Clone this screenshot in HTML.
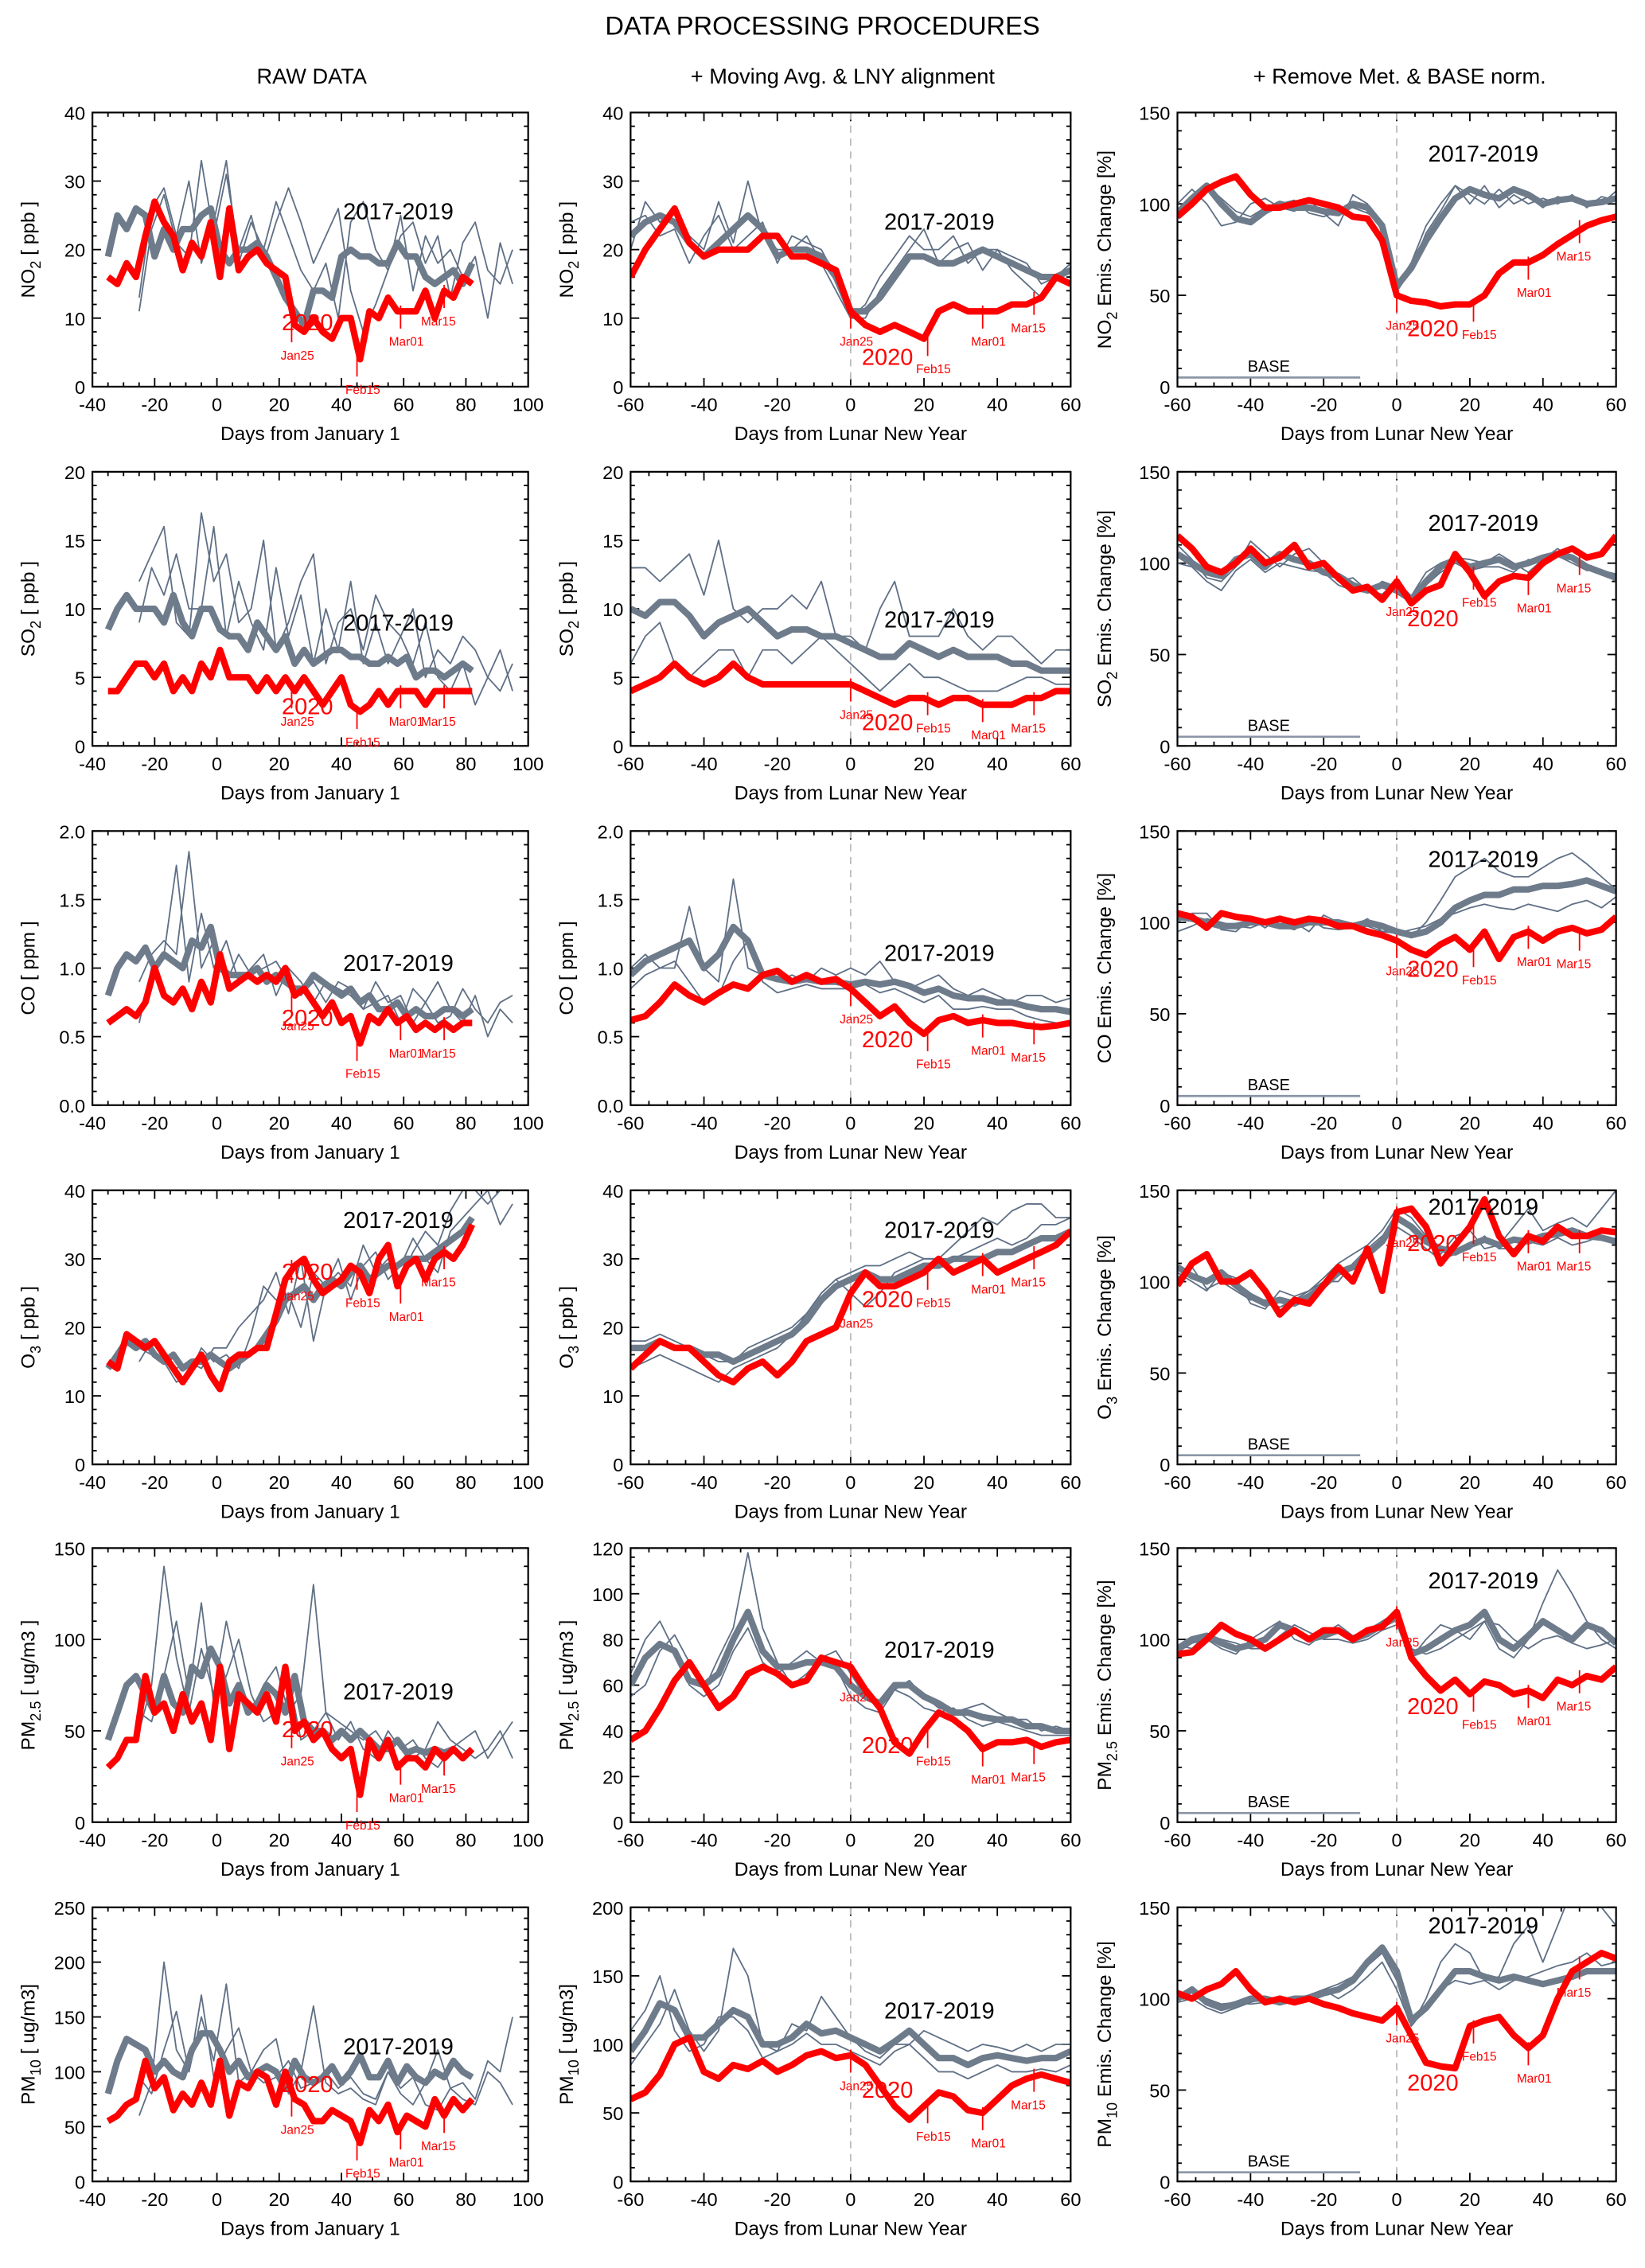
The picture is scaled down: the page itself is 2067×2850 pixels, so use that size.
<!DOCTYPE html>
<html><head><meta charset="utf-8">
<style>
html,body{margin:0;padding:0;background:#fff;}
svg{display:block;font-family:"Liberation Sans",sans-serif;}
</style></head>
<body>
<svg id="fig" width="2067" height="2850" viewBox="0 0 1140 1572" xmlns="http://www.w3.org/2000/svg">
<text x="570" y="24" text-anchor="middle" font-size="18">DATA PROCESSING PROCEDURES</text>
<text x="216" y="58" text-anchor="middle" font-size="15">RAW DATA</text>
<text x="584" y="58" text-anchor="middle" font-size="15">+ Moving Avg. &amp; LNY alignment</text>
<text x="970" y="58" text-anchor="middle" font-size="15">+ Remove Met. &amp; BASE norm.</text>
</svg>
<script>
// ---------- DATA ----------
// column 1 (raw): red/gray start x=-35 step 3; thin start x=-25 step 4
// column 2/3: start x=-60 step 4
const no2_c1_red=[16,15,18,16,22,27,24,22,17,21,19,24,16,26,17,19,20,18,17,16,9,8,10,8,7,10,10,4,11,10,13,11,11,11,14,10,14,13,16,15];
const no2_c1_gray=[19,25,23,26,25,19,23,20,23,23,25,26,20,18,20,20,21,19,16,13,11,9,14,14,13,19,20,19,19,18,18,21,19,19,16,15,16,17,15,18];
const no2_c1_thin1=[11,23,28,21,19,33,22,31,20,25,18,24,29,24,18,22,26,14,8,12,17,22,24,18,22,13,21,24,17,15,20];
const no2_c1_thin2=[13,26,29,22,30,18,24,33,18,24,20,27,22,17,14,18,10,24,27,20,17,25,14,22,18,20,16,19,10,21,15];
const no2_c2_red=[16,20,23,26,21,19,20,20,20,22,22,19,19,18,17,11,9,8,9,8,7,11,12,11,11,11,12,12,13,16,15];
const no2_c2_gray=[22,24,25,24,21,19,21,23,25,23,19,20,20,19,16,11,11,13,16,19,19,18,18,19,20,19,18,17,16,16,17];
const no2_c2_thin1=[20,27,24,26,22,20,27,21,30,22,20,20,22,18,14,10,12,16,19,22,20,20,22,18,20,20,17,15,13,16,18];
const no2_c2_thin2=[24,25,22,23,18,22,25,20,22,24,18,22,21,20,16,10,10,14,17,20,23,18,20,21,17,20,19,18,15,16,18];
const no2_c3_red=[93,100,108,112,115,105,98,98,100,102,100,98,93,92,80,50,47,46,44,45,45,50,62,68,68,72,78,83,88,91,93];
const no2_c3_gray=[95,103,110,100,92,90,96,100,98,98,96,95,100,98,88,55,65,80,92,103,108,105,103,108,105,100,102,103,100,101,103];
const no2_c3_thin1=[100,108,100,88,90,100,103,98,96,102,95,88,105,100,85,55,68,88,100,110,105,100,108,100,104,98,104,102,100,100,107];
const no2_c3_thin2=[92,100,110,103,96,93,98,100,102,95,93,96,98,95,90,52,64,84,96,110,100,110,98,105,100,103,100,105,98,104,102];

const so2_c1_red=[4,4,5,6,6,5,6,4,5,4,6,5,7,5,5,5,4,5,4,5,4,5,4,3,4,5,3,2.5,3,4,3,4,4,4,3,4,4,4,4,4];
const so2_c1_gray=[8.5,10,11,10,10,10,9,11,9,8,10,10,8.5,8,8,7,9,8,7,8,6,7,6,6.5,7,7,6.5,6.5,6,6,6.5,6,6.5,5,5.5,5.5,5,5.5,6,5.5];
const so2_c1_thin1=[12,14,16,9,8,17,12,14,9,10,15,7,9,12,14,6,9,10,7,11,9,8,10,5,7,6,8,7,5,7,4];
const so2_c1_thin2=[9,13,11,14,10,10,16,8,12,9,7,13,8,11,6,10,7,12,6,9,6,8,6,9,5,4,6,3,5,4,6];
const so2_c2_red=[4,4.5,5,6,5,4.5,5,6,5,4.5,4.5,4.5,4.5,4.5,4.5,4.5,4,3.5,3,3.5,3.5,3,3.5,3.5,3,3,3,3.5,3.5,4,4];
const so2_c2_gray=[10,9.5,10.5,10.5,9.5,8,9,9.5,10,9,8,8.5,8.5,8,8,7.5,7,6.5,6.5,7.5,7,6.5,7,6.5,6.5,6.5,6,6,5.5,5.5,5.5];
const so2_c2_thin1=[13,13,12,13,14,11,15,10,9,10,10,11,10,12,8,8,7,10,12,8,8,8,10,8,7,8,8,7,6,7,7];
const so2_c2_thin2=[6,8,9,6,5,6,7,7,5,7,7,6,7,8,7,6,5,4,5,6,5,5,4.5,4,4,4,4.5,5,5,4.5,4.5];
const so2_c3_red=[115,108,98,95,100,108,100,103,110,98,100,92,85,87,80,90,78,85,88,105,95,82,90,93,92,100,105,108,103,105,115];
const so2_c3_gray=[105,100,95,93,102,105,98,105,102,100,95,93,88,85,88,85,80,90,98,102,98,100,102,98,100,103,105,103,98,95,92];
const so2_c3_thin1=[110,102,92,90,98,112,105,98,105,108,100,90,92,85,83,90,82,95,100,103,102,100,105,100,95,102,108,102,97,96,90];
const so2_c3_thin2=[100,98,90,85,96,102,95,100,98,96,95,88,85,84,90,87,78,88,95,100,96,98,98,95,102,100,104,100,96,96,94];

const co_c1_red=[0.6,0.65,0.7,0.65,0.75,1.0,0.8,0.75,0.85,0.7,0.9,0.75,1.1,0.85,0.9,0.95,0.9,0.95,0.9,1.0,0.8,0.85,0.75,0.65,0.75,0.6,0.65,0.45,0.65,0.6,0.7,0.6,0.65,0.55,0.6,0.55,0.6,0.55,0.6,0.6];
const co_c1_gray=[0.8,1.0,1.1,1.05,1.15,1.0,1.1,1.05,1.0,1.2,1.15,1.3,1.0,0.95,0.95,0.95,1.0,0.9,0.95,0.9,0.85,0.85,0.95,0.9,0.85,0.8,0.85,0.75,0.8,0.7,0.7,0.75,0.65,0.7,0.65,0.65,0.7,0.7,0.65,0.7];
const co_c1_thin1=[0.6,1.0,1.1,1.75,0.9,1.4,1.0,1.2,0.9,1.0,1.1,0.8,1.0,0.9,0.75,0.9,0.85,0.8,0.7,0.9,0.75,0.8,0.6,0.75,0.9,0.7,0.6,0.8,0.5,0.7,0.6];
const co_c1_thin2=[0.9,1.1,1.2,1.1,1.85,1.0,1.2,0.9,1.1,0.95,1.0,1.05,0.9,0.8,0.9,0.75,0.9,0.85,0.7,0.75,0.8,0.6,0.85,0.75,0.6,0.65,0.85,0.7,0.6,0.75,0.8];
const co_c2_red=[0.62,0.65,0.75,0.88,0.8,0.75,0.82,0.88,0.85,0.95,0.98,0.9,0.95,0.9,0.92,0.85,0.75,0.65,0.72,0.6,0.52,0.62,0.65,0.6,0.62,0.6,0.6,0.58,0.57,0.58,0.6];
const co_c2_gray=[0.95,1.05,1.1,1.15,1.2,1.0,1.1,1.3,1.2,0.95,0.92,0.9,0.92,0.9,0.9,0.88,0.9,0.88,0.9,0.87,0.82,0.85,0.8,0.78,0.78,0.75,0.75,0.72,0.7,0.7,0.68];
const co_c2_thin1=[1.0,1.1,1.0,1.0,1.45,1.0,0.9,1.65,1.0,0.95,0.9,0.95,0.9,1.0,0.95,1.0,0.95,1.05,0.9,0.85,0.9,0.95,0.85,0.8,0.85,0.8,0.75,0.8,0.8,0.75,0.78];
const co_c2_thin2=[0.85,0.95,1.0,1.05,0.9,0.75,0.8,1.05,1.2,0.9,0.82,0.85,0.88,0.85,0.85,0.85,0.88,0.82,0.85,0.8,0.75,0.8,0.7,0.7,0.72,0.7,0.7,0.65,0.62,0.6,0.6];
const co_c3_red=[105,103,97,105,103,102,100,102,100,102,101,98,98,95,93,90,85,82,88,92,85,95,80,92,95,90,95,97,94,96,103];
const co_c3_gray=[103,102,100,98,98,100,100,98,98,100,100,100,98,100,98,95,93,95,100,108,112,115,115,118,118,120,120,121,123,120,117];
const co_c3_thin1=[100,105,105,96,95,102,97,103,100,95,104,100,98,102,95,96,92,100,112,125,130,135,128,125,125,130,135,138,132,125,118];
const co_c3_thin2=[95,98,102,100,98,97,100,98,96,102,97,96,97,98,95,94,96,98,102,105,108,110,108,107,110,108,106,110,112,108,114];

const o3_c1_red=[15,14,19,18,17,18,16,14,12,14,16,13,11,15,16,16,17,17,22,27,29,30,27,25,26,27,29,28,25,30,32,26,29,30,27,30,31,30,32,35];
const o3_c1_gray=[14,16,18,17,18,16,15,16,14,15,15,16,15,14,15,16,17,19,21,24,25,26,24,26,27,26,28,29,27,28,29,29,30,30,30,31,32,33,34,36];
const o3_c1_thin1=[17,16,15,12,13,17,15,16,14,19,26,24,25,20,28,26,30,24,29,31,27,29,33,30,28,34,36,38,40,35,38];
const o3_c1_thin2=[15,18,16,14,15,14,17,17,20,22,24,28,22,30,18,26,28,26,32,28,30,27,31,34,32,37,40,40,38,40,41];
const o3_c2_red=[14,16,18,17,17,15,13,12,14,15,13,15,18,19,20,25,28,26,26,27,28,30,28,29,30,28,29,30,31,32,34];
const o3_c2_gray=[17,17,18,17,17,16,16,15,16,17,18,19,21,24,26,27,28,27,27,28,29,29,30,30,30,31,31,32,33,33,34];
const o3_c2_thin1=[14,15,16,15,14,13,12,14,15,16,17,19,22,25,27,25,23,25,28,29,30,30,32,34,36,35,37,38,38,36,36];
const o3_c2_thin2=[18,18,19,18,17,16,15,15,17,18,19,20,22,25,27,28,29,29,30,31,30,30,30,31,32,33,32,33,35,35,36];
const o3_c3_red=[98,110,115,100,100,105,95,82,90,88,98,108,100,118,95,138,140,130,110,120,130,145,125,115,125,122,130,125,125,128,127];
const o3_c3_gray=[108,103,100,105,98,92,88,90,88,92,98,105,108,115,122,135,130,122,118,116,120,123,120,123,122,125,126,128,125,124,122];
const o3_c3_thin1=[105,100,95,105,102,88,85,95,92,95,102,110,115,120,128,140,135,125,115,125,128,118,120,130,140,128,132,135,130,140,150];
const o3_c3_thin2=[102,108,96,100,95,90,90,86,90,95,100,100,110,118,125,130,125,118,112,115,118,125,118,118,122,120,124,120,122,125,120];

const pm25_c1_red=[30,35,45,45,80,60,65,50,70,55,65,45,85,40,70,65,60,70,55,85,50,55,45,50,40,35,40,15,45,35,45,30,35,35,30,40,35,40,35,40];
const pm25_c1_gray=[45,60,75,80,70,60,80,65,60,85,80,95,85,65,75,60,65,75,70,60,80,55,50,50,45,50,45,50,45,40,40,45,38,40,38,40,38,40,35,40];
const pm25_c1_thin1=[50,75,140,90,60,95,70,110,80,60,75,85,60,70,130,60,55,50,45,50,40,45,35,40,55,45,40,35,40,50,35];
const pm25_c1_thin2=[60,55,80,110,70,120,65,80,100,70,55,60,80,45,50,60,45,55,40,35,50,40,45,35,30,40,45,50,35,45,55];
const pm25_c2_red=[36,40,50,62,70,60,50,55,65,68,65,60,62,72,70,68,58,50,35,30,40,48,45,40,32,35,35,36,33,35,36];
const pm25_c2_gray=[60,72,78,75,62,60,65,80,92,75,68,68,70,70,68,60,55,52,60,60,55,52,48,48,46,45,45,42,42,40,40];
const pm25_c2_thin1=[55,60,75,82,70,58,72,85,118,85,70,60,65,72,75,65,55,50,58,62,55,50,48,50,52,48,45,45,40,42,40];
const pm25_c2_thin2=[65,80,88,75,60,55,60,75,85,70,65,70,75,70,68,55,50,48,58,55,50,48,50,45,42,44,42,40,38,38,38];
const pm25_c3_red=[92,93,100,108,103,100,95,100,105,100,105,105,100,105,107,115,90,80,72,78,70,77,75,70,72,68,78,75,80,78,85];
const pm25_c3_gray=[95,100,102,98,95,97,100,108,105,100,102,105,100,103,108,112,92,95,100,105,108,115,100,95,102,110,105,100,108,105,98];
const pm25_c3_thin1=[93,98,100,95,92,100,105,110,100,97,103,108,102,105,110,115,90,100,108,105,100,110,95,90,100,120,138,125,110,100,95];
const pm25_c3_thin2=[97,95,103,100,98,95,95,102,108,104,100,100,98,100,105,108,95,92,95,100,105,110,108,100,95,100,102,98,95,97,100];

const pm10_c1_red=[55,60,70,75,110,85,95,65,80,70,90,70,110,60,90,85,100,95,70,100,75,70,55,55,65,60,55,35,65,55,70,45,60,55,50,75,60,75,65,75];
const pm10_c1_gray=[80,110,130,125,120,100,110,100,95,120,135,135,120,100,110,95,100,105,100,85,110,95,90,95,105,90,100,115,95,95,110,90,105,95,90,100,95,110,100,95];
const pm10_c1_thin1=[60,90,200,120,100,150,110,180,90,100,120,130,80,100,160,90,80,85,75,70,100,80,70,90,120,85,75,70,100,90,70];
const pm10_c1_thin2=[95,80,120,155,100,170,95,120,140,100,90,95,110,85,90,100,85,95,80,75,100,85,95,70,65,85,90,75,110,100,150];
const pm10_c2_red=[60,65,78,100,105,80,75,85,82,88,80,85,92,95,90,92,85,70,55,45,55,65,62,52,50,60,70,75,78,75,72];
const pm10_c2_gray=[95,110,130,125,105,105,115,125,120,100,100,105,115,108,110,105,100,95,102,110,100,90,90,85,90,92,90,88,90,90,95];
const pm10_c2_thin1=[85,100,115,140,110,95,110,170,150,100,95,115,110,135,120,105,95,90,100,100,110,105,100,95,100,98,95,100,95,100,100];
const pm10_c2_thin2=[110,125,150,110,95,100,120,120,110,90,95,100,108,100,100,95,90,85,95,100,90,80,80,75,80,85,80,80,82,80,85];
const pm10_c3_red=[103,100,105,108,115,105,98,100,98,100,97,95,92,90,88,95,80,65,63,62,85,88,90,80,73,80,100,115,120,125,122];
const pm10_c3_gray=[100,105,98,95,97,100,100,98,100,100,103,105,110,120,128,115,88,95,105,115,115,112,110,112,110,108,110,112,115,115,115];
const pm10_c3_thin1=[98,100,95,92,95,98,100,100,98,100,105,108,112,118,125,110,85,100,120,130,125,110,112,130,140,120,140,160,160,150,140];
const pm10_c3_thin2=[102,100,100,97,98,97,98,97,100,102,105,100,105,112,120,105,85,95,105,110,108,110,105,110,112,115,118,120,125,118,120];

const species=["NO","SO","CO","O","PM","PM"];
const speciesSub=["2","2","","3","2.5","10"];
const units=["[ ppb ]","[ ppb ]","[ ppm ]","[ ppb ]","[ ug/m3 ]","[ ug/m3]"];
const yMaxC1=[40,20,2.0,40,150,250];
const yStepC1=[10,5,0.5,10,50,50];
const yMaxC2=[40,20,2.0,40,120,200];
const yStepC2=[10,5,0.5,10,20,50];
const dateNames=["Jan25","Feb15","Mar01","Mar15"];
const dateDaysRaw=[24,45,59,73];
const dateDaysLNY=[0,21,36,50];

const seriesByRow=[
 [[no2_c1_red,no2_c1_gray,no2_c1_thin1,no2_c1_thin2],[no2_c2_red,no2_c2_gray,no2_c2_thin1,no2_c2_thin2],[no2_c3_red,no2_c3_gray,no2_c3_thin1,no2_c3_thin2]],
 [[so2_c1_red,so2_c1_gray,so2_c1_thin1,so2_c1_thin2],[so2_c2_red,so2_c2_gray,so2_c2_thin1,so2_c2_thin2],[so2_c3_red,so2_c3_gray,so2_c3_thin1,so2_c3_thin2]],
 [[co_c1_red,co_c1_gray,co_c1_thin1,co_c1_thin2],[co_c2_red,co_c2_gray,co_c2_thin1,co_c2_thin2],[co_c3_red,co_c3_gray,co_c3_thin1,co_c3_thin2]],
 [[o3_c1_red,o3_c1_gray,o3_c1_thin1,o3_c1_thin2],[o3_c2_red,o3_c2_gray,o3_c2_thin1,o3_c2_thin2],[o3_c3_red,o3_c3_gray,o3_c3_thin1,o3_c3_thin2]],
 [[pm25_c1_red,pm25_c1_gray,pm25_c1_thin1,pm25_c1_thin2],[pm25_c2_red,pm25_c2_gray,pm25_c2_thin1,pm25_c2_thin2],[pm25_c3_red,pm25_c3_gray,pm25_c3_thin1,pm25_c3_thin2]],
 [[pm10_c1_red,pm10_c1_gray,pm10_c1_thin1,pm10_c1_thin2],[pm10_c2_red,pm10_c2_gray,pm10_c2_thin1,pm10_c2_thin2],[pm10_c3_red,pm10_c3_gray,pm10_c3_thin1,pm10_c3_thin2]]
];
// annotation placements (pixel layout)
const lblCenters=[[[276,146],[651,153],[1028,106]],[[276,431],[651,429],[1028,362]],[[276,667],[651,660],[1028,595]],[[276,845],[651,852],[1028,836]],[[276,1172],[651,1143],[1028,1095]],[[276,1418],[651,1393],[1028,1334]]];
const lbl2020=[[[213,229],[615,253],[993,233]],[[213,495],[615,506],[993,434]],[[213,711],[615,726],[993,677]],[[213,887],[615,906],[993,867]],[[213,1204],[615,1215],[993,1188]],[[213,1450],[615,1454],[993,1449]]];

// ---------- DRAW ----------
const NS="http://www.w3.org/2000/svg";
const svg=document.getElementById('fig');
function mk(tag,attrs,parent){const e=document.createElementNS(NS,tag);for(const k in attrs)e.setAttribute(k,attrs[k]);(parent||svg).appendChild(e);return e;}
const colL=[64,437,816],colR=[366,742,1120];
const rowT=[78,327,576,825,1073,1322];const PH=190;
const fmt=(v,s)=>s<1?v.toFixed(1):String(Math.round(v));

for(let r=0;r<6;r++){for(let c=0;c<3;c++){
 const L=colL[c],R=colR[c],T=rowT[r],B=T+PH;
 const xmin=c==0?-40:-60,xmax=c==0?100:60;
 const ymax=c==0?yMaxC1[r]:(c==1?yMaxC2[r]:150);
 const ystep=c==0?yStepC1[r]:(c==1?yStepC2[r]:50);
 const xs=v=>L+(v-xmin)/(xmax-xmin)*(R-L);
 const ys=v=>B-v/ymax*PH;
 const g=mk('g',{});
 
 
 const cid='clip'+r+c;
 const cp=mk('clipPath',{id:cid},g);mk('rect',{x:L,y:T,width:R-L,height:PH},cp);
 // ticks
 const ax=mk('g',{stroke:'#000','stroke-width':1},g);
 
 for(let v=xmin;v<=xmax;v+=5){const major=v%20==0;const len=major?6:3;const x=xs(v);
  mk('line',{x1:x,x2:x,y1:B,y2:B-len},ax);mk('line',{x1:x,x2:x,y1:T,y2:T+len},ax);}
 const ym=ystep/5;
 for(let i=0;i<=Math.round(ymax/ym);i++){const v=i*ym;const major=i%5==0;const len=major?6:3;const y=ys(v);
  mk('line',{x1:L,x2:L+len,y1:y,y2:y},ax);mk('line',{x1:R,x2:R-len,y1:y,y2:y},ax);}
 // tick labels
 for(let v=xmin;v<=xmax;v+=20){const t=mk('text',{x:xs(v),y:B+17,'text-anchor':'middle','font-size':13},g);t.textContent=v;
  }
 for(let i=0;i<=Math.round(ymax/ystep);i++){const v=i*ystep;const t=mk('text',{x:L-5,y:ys(v)+5,'text-anchor':'end','font-size':13},g);t.textContent=fmt(v,ystep);
  }
 const xt=mk('text',{x:(L+R)/2,y:B+37,'text-anchor':'middle','font-size':13.5},g);
 xt.textContent=c==0?'Days from January 1':'Days from Lunar New Year';
 
 const yx=L-(c==2?46:40);
 const yt=mk('text',{x:yx,y:(T+B)/2,'text-anchor':'middle','font-size':13.5,transform:'rotate(-90 '+yx+' '+((T+B)/2)+')'},g);
 
 const s1=mk('tspan',{},yt);s1.textContent=species[r];
 if(speciesSub[r]){const s2=mk('tspan',{'font-size':10,dy:4},yt);s2.textContent=speciesSub[r];}
 const s3=mk('tspan',{dy:speciesSub[r]?-4:0},yt);s3.textContent=c==2?' Emis. Change [%]':' '+units[r];
 // dashed LNY line
 if(c>0){const d=mk('line',{x1:xs(0),x2:xs(0),y1:T,y2:B,stroke:'#bbb','stroke-dasharray':'5,4','stroke-width':1},g);
  }
 if(c==2){const b=mk('line',{x1:xs(-60),x2:xs(-10),y1:ys(5),y2:ys(5),stroke:'#8a96a6','stroke-width':1.5},g);
  
  const bt=mk('text',{x:xs(-35),y:ys(5)-4,'text-anchor':'middle','font-size':11},g);bt.textContent='BASE';
  }
 // series
 const S=seriesByRow[r][c];
 const lg=mk('g',{'clip-path':'url(#'+cid+')',fill:'none','stroke-linejoin':'round'},g);
 const pathFor=(arr,x0,st)=>arr.map((v,i)=>(i?'L':'M')+xs(x0+i*st).toFixed(1)+','+ys(v).toFixed(1)).join('');
 const x0m=c==0?-35:-60,stm=c==0?3:4,x0t=c==0?-25:-60,stt=c==0?4:4;
 [S[2],S[3]].forEach((arr,k)=>{const p=mk('path',{d:pathFor(arr,x0t,stt),stroke:'#5f6f85','stroke-width':1},lg);
  });
 const pg=mk('path',{d:pathFor(S[1],x0m,stm),stroke:'#6e7b8b','stroke-width':4.5},lg);
 
 const pr=mk('path',{d:pathFor(S[0],x0m,stm),stroke:'#ff0000','stroke-width':4.5},lg);
 
 mk('rect',{x:L,y:T,width:R-L,height:PH,fill:'none',stroke:'#000','stroke-width':1.2},g);
 // date markers
 const dd=c==0?dateDaysRaw:dateDaysLNY;
 dd.forEach((d,k)=>{const idx=Math.max(0,Math.min(S[0].length-1,Math.round((d-x0m)/stm)));
  const v=S[0][idx];const x=xs(d),y=ys(v);
  mk('line',{x1:x,x2:x,y1:y-4,y2:y+12,stroke:'#f00','stroke-width':1},g);
  const t=mk('text',{x:x+(k==3?-4:4),y:y+24,'text-anchor':'middle','font-size':8.5,fill:'#f00'},g);t.textContent=dateNames[k];
  });
 const lc=lblCenters[r][c];
 const t1=mk('text',{x:lc[0],y:lc[1]+6,'text-anchor':'middle','font-size':16},g);t1.textContent='2017-2019';
 
 const l2=lbl2020[r][c];
 const t2=mk('text',{x:l2[0],y:l2[1],'text-anchor':'middle','font-size':16,fill:'#f00'},g);t2.textContent='2020';
 
}}
</script>
</body></html>
